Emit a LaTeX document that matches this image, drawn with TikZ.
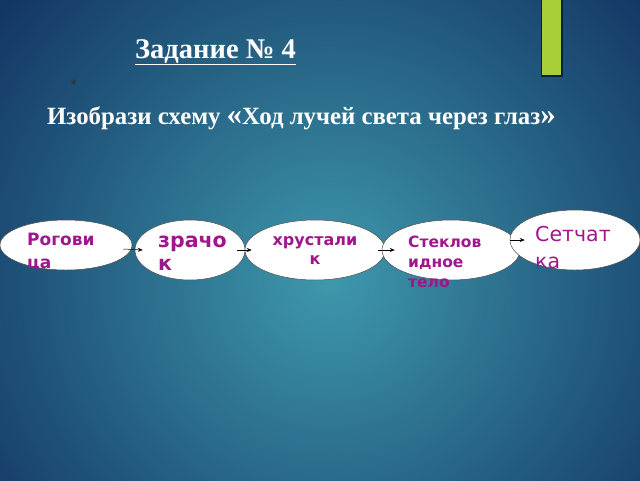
\documentclass[tikz,border=0pt]{standalone}
\usepackage{fontspec}
\setmainfont{Liberation Serif}
\newfontfamily\lblfont{DejaVu Sans}
\usetikzlibrary{shapes.geometric,arrows.meta}
\definecolor{mag}{RGB}{160,22,140}
\definecolor{bgin}{RGB}{62,152,172}
\definecolor{bgout}{RGB}{12,38,88}
\definecolor{lime}{RGB}{168,206,56}
\tikzset{
  oval/.style={ellipse,draw=black!70,line width=0.5pt,fill=white,inner sep=0pt},
  lbl/.style={font=\lblfont\bfseries,text=mag,align=left,inner sep=0pt,anchor=north west},
  arr/.style={-{Stealth[length=5pt,width=4pt]},line width=0.5pt,black}
}
\begin{document}
\begin{tikzpicture}[x=1pt,y=-1pt]
\useasboundingbox (0,0) rectangle (640,480);
\shade[inner color=bgin,outer color=bgout] (-170,-220) rectangle (830,780);
\clip (0,0) rectangle (640,480);
\fill[bgout!80!black] (541,0) rectangle (563,77);
\fill[lime] (542,0) rectangle (561,75);
\node[font=\bfseries\fontsize{28.5}{32}\selectfont,text=white,anchor=base west,inner sep=0pt] (title) at (135,58) {\underline{Задание № 4}};
\fill[black!80] (71,82) -- (75,79) -- (75,85) -- cycle;
\node[font=\bfseries\fontsize{24.8}{28}\selectfont,text=white,anchor=base west,inner sep=0pt] (sub) at (47,124) {Изобрази схему {\fontsize{31}{31}\selectfont«}Ход лучей света через глаз{\fontsize{31}{31}\selectfont»}};
\node[oval,minimum width=132,minimum height=50] (e1) at (66,245) {};
\node[oval,minimum width=110,minimum height=60] (e2) at (190,250) {};
\node[oval,minimum width=140,minimum height=60] (e3) at (315,250) {};
\node[oval,minimum width=138,minimum height=60] (e4) at (451,250) {};
\node[oval,minimum width=130,minimum height=60] (e5) at (575,240) {};
\node[lbl,font=\lblfont\bfseries\fontsize{17}{23}\selectfont] (t1) at (27,232.5) {Рогови\\ца};
\node[lbl,font=\lblfont\bfseries\fontsize{20.5}{23}\selectfont] (t2) at (158,236) {зрачо\\к};
\node[lbl,align=center,anchor=north,font=\lblfont\bfseries\fontsize{16}{19.5}\selectfont] (t3) at (315,236) {хрустали\\к};
\node[lbl,font=\lblfont\bfseries\fontsize{15.5}{20}\selectfont] (t4) at (408,236) {Стеклов\\идное\\тело};
\node[lbl,font=\lblfont\fontsize{20.5}{27}\selectfont] (t5) at (535,226) {Сетчат\\ка};
\draw[arr] ([xshift=-9pt,yshift=-4pt]e1.east) -- ([xshift=8pt]e2.west);
\draw[arr] ([xshift=-8pt]e2.east) -- ([xshift=7pt]e3.west);
\draw[arr] ([xshift=-7pt]e3.east) -- ([xshift=13pt]e4.west);
\draw[arr] ([xshift=-10pt,yshift=10pt]e4.east) -- ([xshift=15pt]e5.west);
\end{tikzpicture}
\end{document}
